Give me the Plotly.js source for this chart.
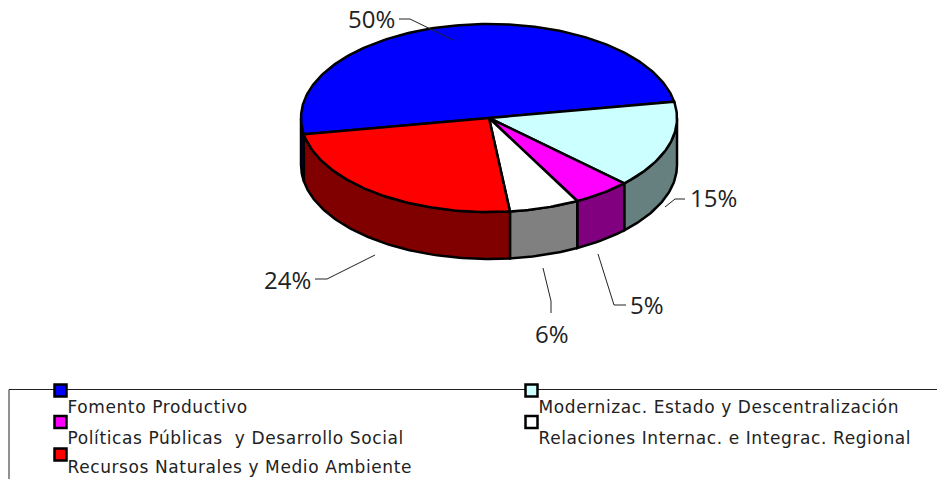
<!DOCTYPE html>
<html><head><meta charset="utf-8">
<script src="https://cdn.plot.ly/plotly-3.0.1.min.js"></script>
<style>html,body{margin:0;padding:0;background:#fff}#c{width:937px;height:479px}
#c .legtext text{letter-spacing:0.6px}</style>
</head><body><div id="c"></div>
<script>
const categories = ["Fomento Productivo","Modernizac. Estado y Descentralización","Políticas Públicas  y Desarrollo Social","Relaciones Internac. e Integrac. Regional","Recursos Naturales y Medio Ambiente"];
const values = [50,15,5,6,24];
const topColors = ["#0000ff","#ccffff","#ff00ff","#ffffff","#ff0000"];
const sideColors = ["#000080","#668080","#800080","#808080","#800000"];

const cx=489, cy=118, rx=188, ry=94, depth=47, startDeg=170;
const LEGFONT='"DejaVu Sans", sans-serif', PCTFONT='"Open Sans", sans-serif';
const rad=d=>d*Math.PI/180;
const px=t=>cx+rx*Math.cos(rad(t));
const py=t=>cy+ry*Math.sin(rad(t));
const traces=[];
const bounds=[]; let a=startDeg;
values.forEach(v=>{bounds.push([a,a+v*3.6]);a+=v*3.6;});

bounds.forEach((b,i)=>{
  [[0,180],[360,540]].forEach(win=>{
    const s=Math.max(b[0],win[0]), e=Math.min(b[1],win[1]);
    if(e<=s) return;
    const xs=[],ys=[];
    for(let t=s;;t=Math.min(t+1,e)){xs.push(px(t));ys.push(py(t));if(t>=e)break;}
    for(let t=e;;t=Math.max(t-1,s)){xs.push(px(t));ys.push(py(t)+depth);if(t<=s)break;}
    xs.push(xs[0]);ys.push(ys[0]);
    traces.push({x:xs,y:ys,mode:'lines',fill:'toself',fillcolor:sideColors[i],line:{color:'#000',width:2.5},hoverinfo:'skip',showlegend:false});
  });
});
bounds.forEach((b,i)=>{
  const xs=[cx],ys=[cy];
  for(let t=b[0];;t=Math.min(t+1,b[1])){xs.push(px(t));ys.push(py(t));if(t>=b[1])break;}
  xs.push(cx);ys.push(cy);
  traces.push({x:xs,y:ys,mode:'lines',fill:'toself',fillcolor:topColors[i],line:{color:'#000',width:2.5},name:categories[i],text:values[i]+'%',hoverinfo:'name+text',showlegend:false});
});
[[[399,410,453],[19,19,40]],
 [[685,675,665],[199,199,207]],
 [[626,614,598],[305,305,254]],
 [[551,551,543],[313,301,268]],
 [[315,327,375],[279,279,255]]].forEach(l=>{
  traces.push({x:l[0],y:l[1],mode:'lines',line:{color:'#222',width:1},hoverinfo:'skip',showlegend:false});
});
const labelX=[348,690,630,535,264], labelY=[22,201,308,337,283];
traces.push({x:labelX,y:labelY,mode:'text',text:values.map(v=>v+'%'),textposition:'middle right',textfont:{family:PCTFONT,size:24,color:'#222'},hoverinfo:'skip',showlegend:false});
const legX=[60.5,531.5,60.5,531.5,60.5], legY=[390.5,390.5,422,422,454.5];
const legTextY=[408.5,408.5,440,440,468.5];
traces.push({x:legX,y:legY,mode:'markers',marker:{symbol:'square',size:12,color:topColors,line:{color:'#000',width:2.5}},hoverinfo:'skip',showlegend:false});
traces.push({x:legX.map(v=>v+7),y:legTextY,mode:'text',text:categories,textposition:'middle right',textfont:{family:LEGFONT,size:17,color:'#222'},hoverinfo:'skip',showlegend:false});

const layout={
  width:937,height:479,margin:{l:0,r:0,t:0,b:0},paper_bgcolor:'#fff',plot_bgcolor:'#fff',showlegend:false,
  xaxis:{range:[0,937],visible:false,fixedrange:true},
  yaxis:{range:[479,0],visible:false,fixedrange:true},
  shapes:[
    {type:'line',x0:9,x1:937,y0:389.5,y1:389.5,line:{color:'#222',width:1},layer:'below'},
    {type:'line',x0:9,x1:9,y0:389.5,y1:479,line:{color:'#222',width:1},layer:'below'}
  ]
};
Plotly.newPlot('c',traces,layout,{displayModeBar:false,staticPlot:true}).then(gd=>{
  const t=gd.querySelectorAll('.scatterlayer .trace');
  if(t.length) t[t.length-1].classList.add('legtext');
});
</script></body></html>
